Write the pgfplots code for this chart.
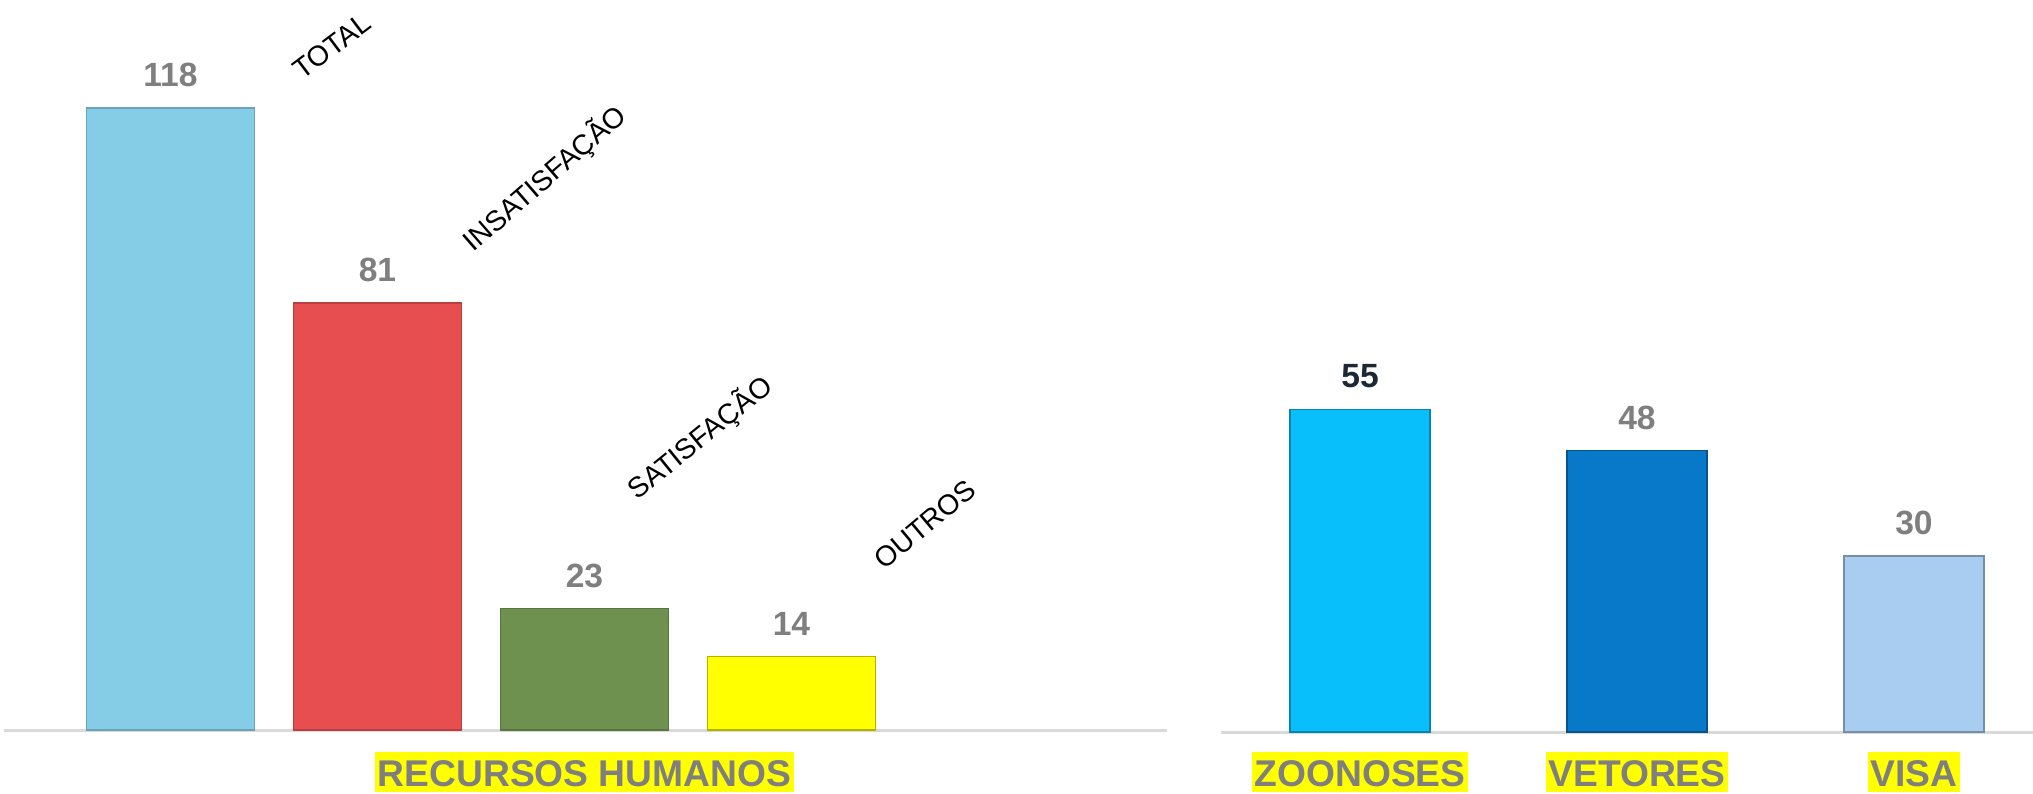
\documentclass[border=0pt]{standalone}
\usepackage{fontspec}
\setmainfont{Liberation Sans}
\usepackage{pgfplots}
\pgfplotsset{compat=1.18}
\definecolor{cTotal}{HTML}{85CCE6}
\definecolor{cInsat}{HTML}{E64E4F}
\definecolor{cSat}{HTML}{6E9150}
\definecolor{cOut}{HTML}{FFFF00}
\definecolor{cZoo}{HTML}{08BEFB}
\definecolor{cVet}{HTML}{0878C8}
\definecolor{cVisa}{HTML}{A9CDF1}
\definecolor{lblGray}{HTML}{7F7F7F}
\definecolor{lblDark}{HTML}{1C2833}
\definecolor{baseGray}{HTML}{D9D9D9}
\definecolor{hl}{HTML}{FFFF00}
\begin{document}
\begin{tikzpicture}
\path[use as bounding box] (0pt,0pt) rectangle (508.25pt,198.25pt);
\pgfplotsset{
  barchart/.style={
    scale only axis,
    ybar,
    bar shift=0pt,
    ymin=0,
    clip=false,
    axis x line=bottom,
    axis y line=none,
    x axis line style={draw=baseGray, line width=0.75pt, -},
    major tick length=0pt,
    ytick=\empty,
    /pgf/number format/assume math mode=true,
    nodes near coords,
    every node near coord/.append style={anchor=base, yshift=5.3pt, text=lblGray, font=\bfseries\fontsize{8.4}{10}\selectfont},
    xticklabel style={anchor=base, fill=hl, text=lblGray, font=\bfseries\fontsize{9.3}{11}\selectfont, inner xsep=0.6pt, inner ysep=0pt, text height=8.7pt, text depth=1.3pt},
  }
}
% Left chart: Recursos Humanos
\begin{axis}[barchart,
  at={(1pt,15.75pt)}, anchor=south west,
  width=290.75pt, height=182.5pt,
  xmin=-0.804, xmax=4.814, ymax=138.5,
  bar width=42pt,
  xtick={2}, xticklabels={RECURSOS HUMANOS},
  xticklabel style={yshift=-14.2pt},
]
\addplot[fill=cTotal, draw=cTotal!80!black, line width=0.3pt] coordinates {(0,118)};
\addplot[fill=cInsat, draw=cInsat!80!black, line width=0.3pt] coordinates {(1,81)};
\addplot[fill=cSat, draw=cSat!80!black, line width=0.3pt] coordinates {(2,23)};
\addplot[fill=cOut, draw=cOut!70!black, line width=0.3pt] coordinates {(3,14)};
\node[rotate=37, font=\fontsize{7.1}{8}\selectfont] at (axis cs:0.780,129.7) {TOTAL};
\node[rotate=41, font=\fontsize{7.1}{8}\selectfont] at (axis cs:1.809,104.6) {INSATISFAÇÃO};
\node[rotate=39, font=\fontsize{7.1}{8}\selectfont] at (axis cs:2.558,55.4) {SATISFAÇÃO};
\node[rotate=40, font=\fontsize{7.1}{8}\selectfont] at (axis cs:3.645,39.0) {OUTROS};
\end{axis}
% Right chart
\begin{axis}[barchart,
  at={(305.25pt,15.25pt)}, anchor=south west,
  width=203pt, height=183pt,
  xmin=-0.502, xmax=2.43, ymax=124.7,
  bar width=35pt,
  xtick={0,1,2}, xticklabels={ZOONOSES,VETORES,VISA},
  xticklabel style={yshift=-13.7pt},
]
\addplot[fill=cZoo, draw=cZoo!70!black, line width=0.3pt, every node near coord/.append style={text=lblDark}] coordinates {(0,55)};
\addplot[fill=cVet, draw=cVet!70!black, line width=0.3pt] coordinates {(1,48)};
\addplot[fill=cVisa, draw=cVisa!70!black, line width=0.3pt] coordinates {(2,30)};
\end{axis}
\end{tikzpicture}
\end{document}
